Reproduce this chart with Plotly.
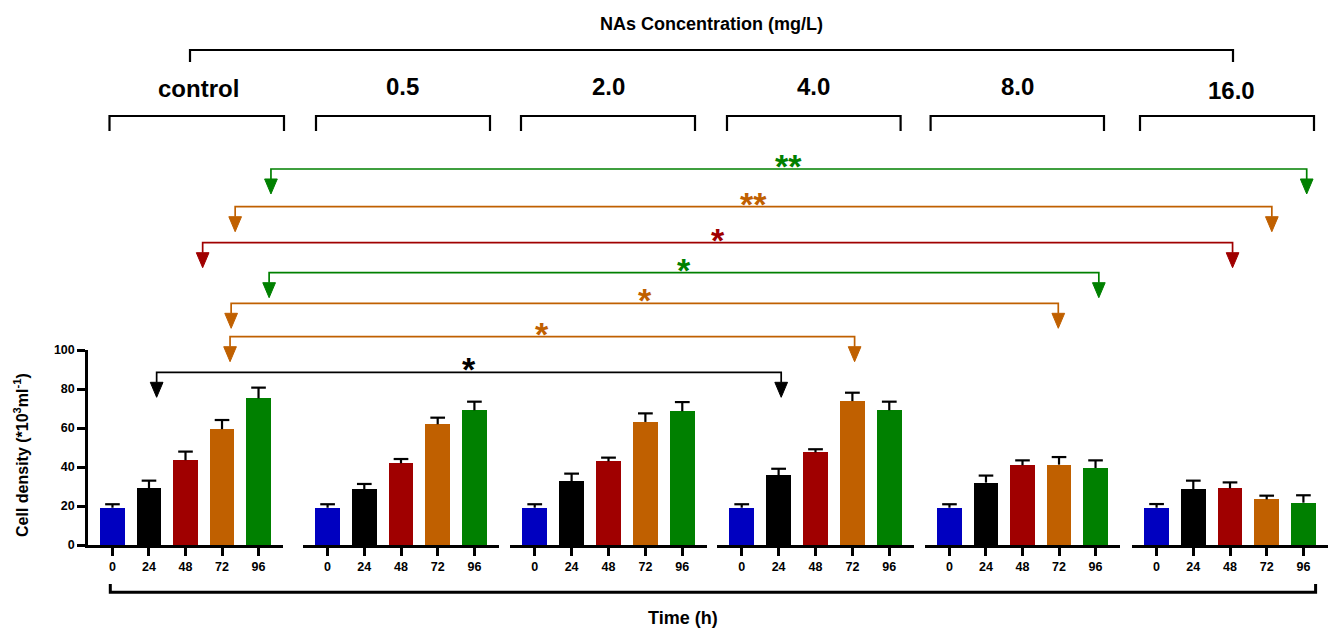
import plotly.graph_objects as go

# ---------------- data ----------------
groups = ["control", "0.5", "2.0", "4.0", "8.0", "16.0"]
time_labels = ["0", "24", "48", "72", "96"]

control_mean = [19.1, 29.0, 43.5, 59.4, 75.2]
control_err = [1.8, 4.0, 4.4, 4.7, 5.5]
c05_mean = [19.1, 28.7, 41.9, 61.9, 69.1]
c05_err = [1.8, 2.6, 2.2, 3.4, 4.4]
c20_mean = [19.1, 32.8, 42.9, 63.1, 68.6]
c20_err = [1.8, 3.8, 1.9, 4.4, 4.7]
c40_mean = [19.1, 35.7, 47.5, 73.8, 69.1]
c40_err = [1.8, 3.4, 1.6, 4.3, 4.4]
c80_mean = [19.1, 32.0, 40.9, 41.2, 39.5]
c80_err = [1.8, 3.6, 2.5, 3.9, 3.9]
c160_mean = [19.1, 28.5, 29.1, 23.4, 21.7]
c160_err = [1.9, 4.5, 3.0, 1.9, 3.8]

means = [control_mean, c05_mean, c20_mean, c40_mean, c80_mean, c160_mean]
errs = [control_err, c05_err, c20_err, c40_err, c80_err, c160_err]

# significance comparisons: (group A, bar pos A, group B, bar pos B, label, colour key)
comparisons = [
    (0, 4.34, 5, 4.09, "**", "green"),
    (0, 3.36, 5, 3.14, "**", "orange"),
    (0, 2.47, 5, 2.07, "*", "red"),
    (0, 4.29, 4, 4.09, "*", "green"),
    (0, 3.25, 4, 2.98, "*", "orange"),
    (0, 3.22, 3, 3.06, "*", "orange"),
    (0, 1.21, 3, 1.07, "*", "black"),
]

# ---------------- styles / layout geometry ----------------
COLORS = {"blue": "#0000C0", "black": "#000000", "red": "#A00000",
          "orange": "#C06000", "green": "#008000"}
bar_colors = [COLORS[k] for k in ["blue", "black", "red", "orange", "green"]]
FONT = "Liberation Sans"

W, H = 1329, 628
ML, MR, MT, MB = 88, 1, 0, 83
PW = W - ML - MR
PH = H - MT - MB
Y_TOP_PX = 350  # pixel row of the 100 tick

group_px = [(88, 283), (303, 499), (510, 707), (717, 914), (925, 1120), (1132, 1328)]
XR = [-0.67, 4.67]


def px2x(px):
    return (px - ML) / PW


def px2y(py):
    return (H - MB - py) / PH


def bar2px(g, pos):
    a, b = group_px[g]
    return a + (pos - XR[0]) / (XR[1] - XR[0]) * (b - a)


fig = go.Figure()

for g in range(6):
    xa = "x" if g == 0 else f"x{g+1}"
    xs = list(range(5))
    fig.add_trace(go.Bar(
        x=xs, y=means[g], width=0.68, marker=dict(color=bar_colors, line=dict(width=0)),
        xaxis=xa, yaxis="y", showlegend=False, hoverinfo="skip"))
    ex, ey = [], []
    cw = 0.2
    for i, (m, e) in enumerate(zip(means[g], errs[g])):
        ex += [i, i, None, i - cw, i + cw, None]
        ey += [m, m + e, None, m + e, m + e, None]
    fig.add_trace(go.Scatter(
        x=ex, y=ey, mode="lines", line=dict(color="black", width=2.2),
        xaxis=xa, yaxis="y", showlegend=False, hoverinfo="skip"))

tickfont = dict(family=FONT, size=12.5, color="black", weight="bold")
layout = dict(
    width=W, height=H, margin=dict(l=ML, r=MR, t=MT, b=MB, autoexpand=False),
    paper_bgcolor="white", plot_bgcolor="white",
    bargap=0, showlegend=False,
    yaxis=dict(range=[0, 100], domain=[0, px2y(Y_TOP_PX)], tickvals=[0, 20, 40, 60, 80, 100],
               showline=True, linewidth=2.5, linecolor="black", ticks="outside",
               ticklen=8, tickwidth=2.5, tickcolor="black", showgrid=False,
               zeroline=False, tickfont=tickfont, anchor="x", fixedrange=True),
)
for g in range(6):
    key = "xaxis" if g == 0 else f"xaxis{g+1}"
    a, b = group_px[g]
    layout[key] = dict(
        domain=[px2x(a), px2x(b)], range=XR, anchor="y",
        tickvals=list(range(5)), ticktext=time_labels,
        showline=True, linewidth=2.5, linecolor="black", ticks="outside",
        ticklen=8, tickwidth=2.5, tickcolor="black", showgrid=False,
        zeroline=False, tickfont=tickfont, fixedrange=True)
fig.update_layout(**layout)

shapes = []
annotations = []


def path_shape(pts, color, width, fill=None, closed=False):
    d = "M " + " L ".join(f"{px2x(x):.5f},{px2y(y):.5f}" for x, y in pts)
    if closed:
        d += " Z"
    s = dict(type="path", path=d, xref="paper", yref="paper",
             line=dict(color=color, width=width))
    if fill:
        s["fillcolor"] = fill
    return s


def text_ann(text, x, y, size, color="black", angle=0):
    return dict(text=text, x=px2x(x), y=px2y(y), xref="paper", yref="paper",
                xanchor="center", yanchor="middle", showarrow=False, textangle=angle,
                font=dict(family=FONT, size=size, color=color))


# top big bracket
shapes.append(path_shape([(190, 62), (190, 50), (1233, 50), (1233, 62)], "black", 2.2))
annotations.append(text_ann("<b>NAs Concentration (mg/L)</b>", 712, 24, 18))

# group brackets + labels
bracket_px = [(109.5, 284), (316, 490), (521, 695), (727, 900.6), (930.6, 1104), (1140, 1314)]
label_pos = [(198, 89), (402, 87), (608, 87), (813.5, 87), (1017, 87), (1231.5, 90)]
for (a, b), (lx, ly), name in zip(bracket_px, label_pos, groups):
    shapes.append(path_shape([(a, 131), (a, 116), (b, 116), (b, 131)], "black", 2.2))
    annotations.append(text_ann(f"<b>{name}</b>", lx, ly, 24))

# significance arrows
line_rows = [169, 206.7, 242.7, 272.7, 303.3, 336.7, 372.3]
DROP = 25
HEAD_H = 15
HEAD_W = 12.7
for (ga, pa, gb, pb, lab, ck), ly in zip(comparisons, line_rows):
    col = COLORS[ck]
    xa_ = bar2px(ga, pa)
    xb_ = bar2px(gb, pb)
    tip = ly + DROP
    shapes.append(path_shape([(xa_, tip - HEAD_H), (xa_, ly), (xb_, ly), (xb_, tip - HEAD_H)], col, 1.7))
    for xx in (xa_, xb_):
        shapes.append(path_shape([(xx - HEAD_W / 2, tip - HEAD_H), (xx + HEAD_W / 2, tip - HEAD_H), (xx, tip)],
                                 col, 1, fill=col, closed=True))
    annotations.append(text_ann(f"<b>{lab}</b>", (xa_ + xb_) / 2, ly - 3, 34, col))

# bottom bracket + x title
shapes.append(path_shape([(110.3, 584), (110.3, 592.3), (1315.6, 592.3), (1315.6, 584)], "black", 3))
annotations.append(text_ann("<b>Time (h)</b>", 683, 618, 18))

# y title
annotations.append(text_ann("<b>Cell density (*10<sup>3</sup>ml<sup>-1</sup>)</b>", 21, 455, 16, angle=-90))

fig.update_layout(shapes=shapes, annotations=annotations)
fig.write_html("out.html", config={"displayModeBar": False},
               post_script="document.body.style.margin='0';document.body.style.overflow='hidden';")
